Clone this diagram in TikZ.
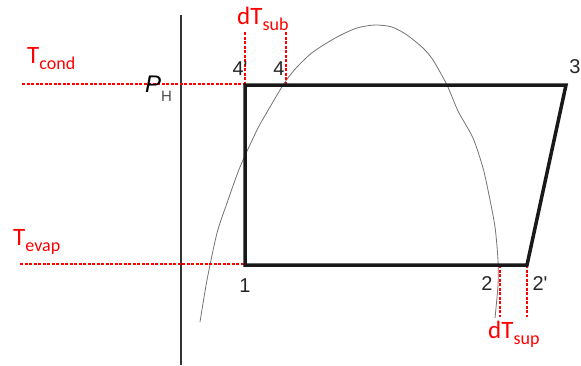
\documentclass[tikz,border=0pt]{standalone}
\usepackage{fontspec}
\setmainfont{Liberation Sans}
\newfontfamily\calibri{Carlito}
\usetikzlibrary{positioning}
\tikzset{
 lbl/.style={font=\fontsize{20}{20}\selectfont,text=black!85,inner sep=0pt},
 tlbl/.style={font=\calibri\fontsize{25}{25}\selectfont,text=red,inner sep=0pt,anchor=base west},
 guide/.style={red,line width=1.3pt,dash pattern=on 3pt off 1.5pt},
 loopline/.style={line width=3.5pt,line join=miter,black!90},
 dome/.style={black!55,line width=0.8pt}
}
\newcommand{\tsub}[2]{#1\raisebox{-6pt}{\fontsize{18}{18}\selectfont #2}}

\begin{document}
\begin{tikzpicture}[x=1pt,y=-1pt]
\useasboundingbox (0,0) rectangle (581,365);
\coordinate (ptop) at (181,15);\coordinate (pbot) at (181,365);
\coordinate (c4p) at (245,85);\coordinate (c3) at (566,85);\coordinate (c2p) at (527,265);\coordinate (c1) at (245,265);
\coordinate (c4) at (286,85);\coordinate (c2) at (500,265);
\coordinate (tc) at (22,84);\coordinate (te) at (20,264);\coordinate (tcend) at (245,84);\coordinate (teend) at (245,264);
\coordinate (sub4p) at (245,32);\coordinate (sub4) at (286,32);\coordinate (sup2) at (500,317);\coordinate (sup2p) at (527,317);
\draw[black!80,line width=1.6pt] (ptop)--(pbot);
\draw[dome] plot[smooth,tension=0.45] coordinates {(200,322) (207,280) (217,233) (227,203) (240,167) (257,130) (270,107) (285,82) (297,67) (313,52) (337,37) (357,28) (375,25) (392,27) (407,35) (423,48) (433,60) (447,85) (458,111) (473,138) (483,168) (489,195) (495,227) (498,260) (498,285) (495,318)};
\draw[guide] (tc)--(tcend) (te)--(teend) (sub4p)--(c4p) (sub4)--(c4) (c2)--(sup2) (c2p)--(sup2p);
\draw[loopline] (c4p)--(c3)--(c2p)--(c1)--cycle;
\node[lbl] (n4p) at (240,69){4\textquotesingle};\node[lbl] (n4) at (279,69){4};\node[lbl] (n3) at (575,67){3};
\node[lbl] (n1) at (245,286){1};\node[lbl] (n2) at (487,284){2};\node[lbl] (n2p) at (540,284){2\textquotesingle};
\node[lbl,anchor=base west,text=black] (ph) at (145,92){\fontsize{24}{24}\selectfont\itshape P\upshape\textcolor{black!70}{\raisebox{-9pt}{\fontsize{15}{15}\selectfont H}}};
\node[tlbl] (tcond) at (27,63){\tsub{T}{cond}};\node[tlbl] (tevap) at (13,245){\tsub{T}{evap}};
\node[tlbl] (dtsub) at (237,24){\tsub{dT}{sub}};\node[tlbl] (dtsup) at (488,338){\tsub{dT}{sup}};
\end{tikzpicture}
\end{document}
